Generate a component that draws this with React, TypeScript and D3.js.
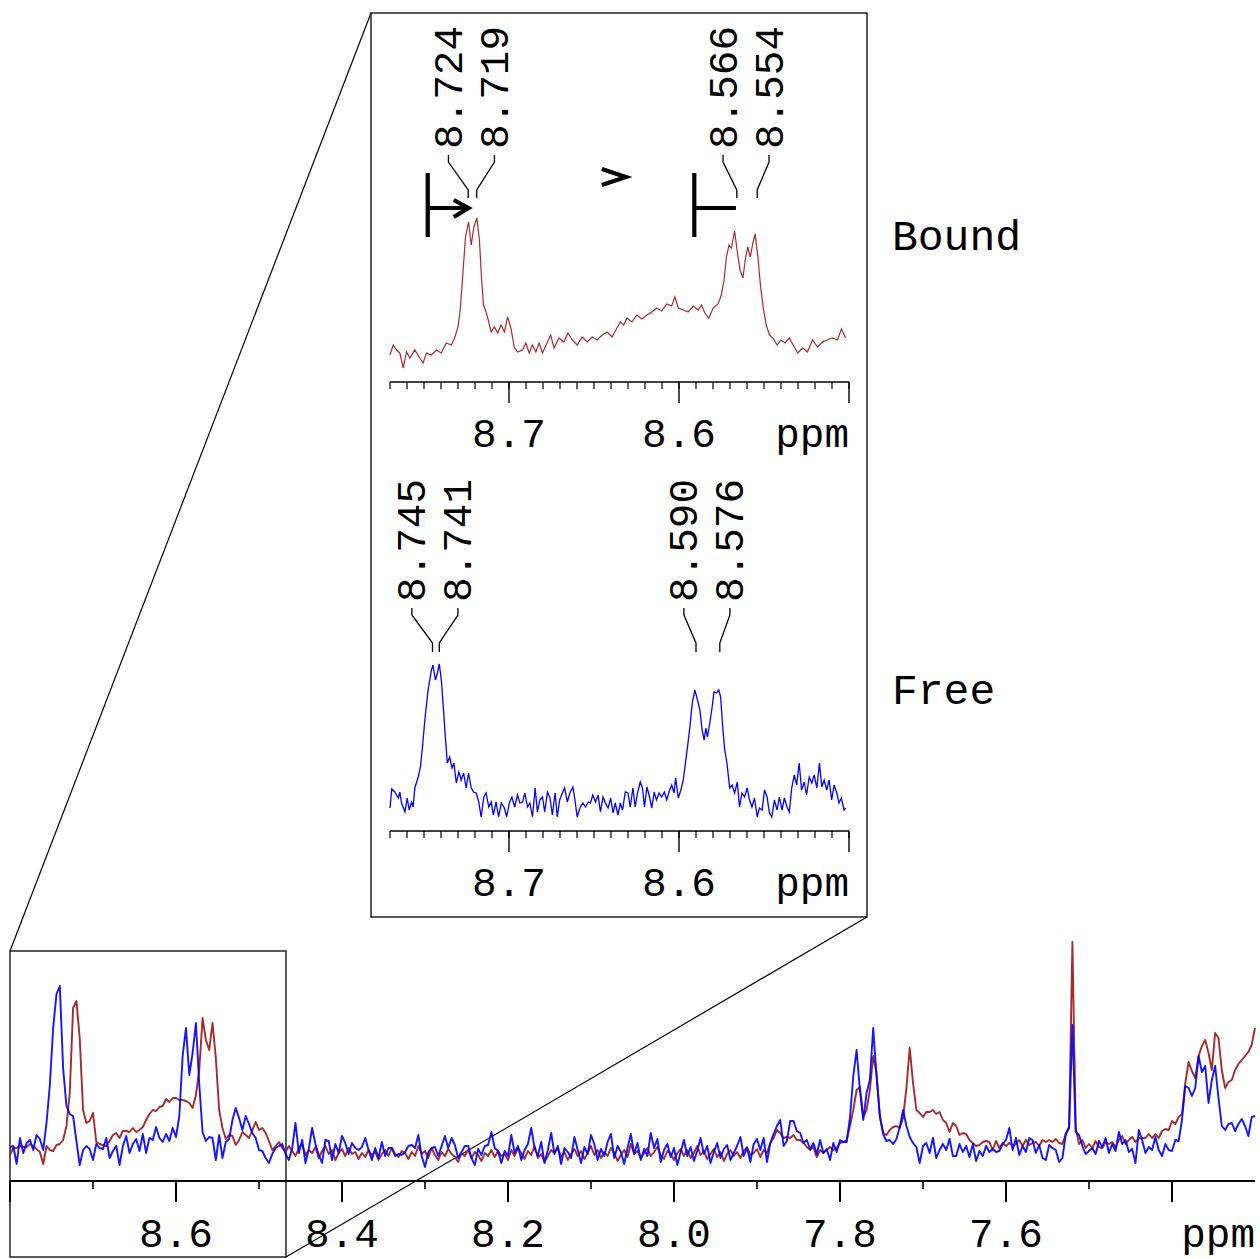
import React from "react";
import * as d3 from "d3";

// ---------- main spectrum (uniform ppm grid) ----------
const MAIN_START = 8.8;
const MAIN_STEP = 0.004;

const freeMain: number[] = [
  21,22,4,30,15,25,28,18,33,29, 18,45,83,140,174,182,100,62,54,52, 27,3,18,22,19,8,24,20,19,30,
  10,17,22,3,22,32,15,24,29,17, 34,15,30,28,41,30,26,34,27,40, 31,52,112,140,93,115,145,84,36,27,
  31,30,8,33,10,26,29,48,60,50, 38,52,44,35,30,18,
  17,10,5,14,20,22,24,14,8,20, 45,15,28,5,19,40,24,13,5,28, 27,8,24,15,32,25,14,25,20,18,
  21,30,18,8,20,10,26,12,20,20, 12,14,13,16,22,23,20,33,12,1, 16,20,21,12,22,32,20,30,23,10,
  16,22,22,10,3,19,13,22,23,36, 20,17,5,17,12,
  33,15,22,8,18,24,40,20,12,26, 5,18,35,14,22,4,20,16,10,31, 18,5,21,14,33,24,8,19,12,26,
  34,10,22,16,4,20,34,14,25,8, 19,12,35,20,29,6,18,24,11,20, 3,16,28,12,21,7,17,30,14,22,
  5,16,25,10,19,23,8,15,22,31, 12,20,6,24,29,
  18,30,6,25,34,42,48,22,27,47, 47,37,35,25,28,19,25,14,28,15, 19,8,25,16,28,26,26,50,92,118,
  78,48,75,88,140,92,52,34,27,28, 24,29,41,58,42,31,25,21,5,22, 25,15,30,10,18,24,18,29,12,12,
  24,16,22,11,24,7,17,12,22,16, 19,16,17,24,28,40,
  18,30,13,22,16,30,28,15,23,10, 8,23,20,18,6,10,34,41,143,36, 33,22,14,17,20,14,27,21,30,15,
  24,17,36,24,28,16,19,5,38,28, 15,21,18,31,18,12,24,18,17,28, 27,48,82,80,72,80,112,96,102,65,
  88,102,70,42,38,44,45,37,44,49, 42,32,51,52,
];

const boundMain: number[] = [
  13,20,20,22,21,21,24,22,19,16, 4,22,18,17,23,24,28,42,75,160, 167,130,58,45,47,55,26,24,23,22,
  27,33,35,30,37,37,36,40,36,38, 41,48,54,58,57,61,62,69,66,70, 70,68,68,67,65,60,73,98,150,128,
  118,145,110,58,40,29,33,32,23,28, 36,33,30,38,46,38,
  40,35,27,18,22,26,20,16,22,17, 12,20,24,13,18,15,21,10,17,22, 14,18,8,15,19,12,20,14,16,9,
  15,11,18,13,16,8,14,18,12,20, 14,11,17,15,9,16,12,22,14,17, 10,20,13,8,16,12,19,14,11,6,
  15,12,18,10,16,13,7,15,12,18, 11,17,12,14,8,
  18,12,20,15,9,17,13,22,10,14, 6,12,18,15,20,11,16,8,14,19, 12,17,9,15,22,13,18,10,16,12,
  20,15,7,13,18,11,24,14,17,10, 15,20,12,16,21,13,9,17,14,8, 15,19,12,18,10,15,22,13,17,9,
  14,19,11,16,7,14,18,12,16,10, 17,21,13,15,19,
  11,18,15,25,30,38,35,30,31,30, 33,28,28,25,21,18,21,11,18,15, 18,21,18,20,25,26,28,42,58,78,
  81,51,58,78,112,95,52,35,33,38, 41,42,40,50,80,120,85,58,55,51, 56,56,58,54,56,48,45,36,45,42,
  33,35,34,28,25,22,23,26,27,26, 18,27,20,25,22,25,
  22,24,28,22,28,23,25,26,22,28, 26,28,26,29,25,24,34,40,226,40, 24,28,20,24,20,27,21,20,26,24,
  26,21,28,32,24,28,31,26,30,30, 30,34,30,34,30,37,39,38,47,44, 51,54,85,106,97,90,112,122,128,115,
  98,135,130,98,80,86,88,98,104,108, 112,116,123,140,
];

// ---------- inset spectra [ppm, intensity] ----------
const boundInset: [number, number][] = [
  [8.7700,15],[8.7681,25],[8.7661,20],[8.7642,17],[8.7622,2],[8.7603,18],[8.7583,12],[8.7554,20],[8.7525,12],[8.7505,7],
  [8.7486,17],[8.7456,15],[8.7427,20],[8.7398,17],[8.7369,27],[8.7339,25],[8.7320,32],[8.7300,43],[8.7287,60],[8.7271,97],
  [8.7256,133],[8.7238,148],[8.7222,125],[8.7207,143],[8.7189,152],[8.7174,130],[8.7162,93],[8.7150,65],[8.7135,58],[8.7119,48],
  [8.7105,38],[8.7086,43],[8.7066,37],[8.7047,45],[8.7027,38],[8.7008,53],[8.6989,42],[8.6969,23],[8.6950,18],[8.6920,20],
  [8.6901,27],[8.6881,17],[8.6862,25],[8.6842,18],[8.6823,27],[8.6803,17],[8.6774,28],[8.6755,35],[8.6735,22],[8.6706,32],
  [8.6677,28],[8.6653,37],[8.6628,30],[8.6599,25],[8.6569,33],[8.6540,28],[8.6511,33],[8.6482,30],[8.6452,35],[8.6423,38],
  [8.6394,33],[8.6365,42],[8.6345,48],[8.6325,45],[8.6306,52],[8.6277,48],[8.6248,55],[8.6218,51],[8.6189,55],[8.6160,58],
  [8.6131,62],[8.6102,59],[8.6072,66],[8.6043,64],[8.6024,73],[8.6004,62],[8.5975,60],[8.5946,58],[8.5916,64],[8.5887,60],
  [8.5868,65],[8.5848,57],[8.5825,52],[8.5799,62],[8.5770,66],[8.5751,75],[8.5735,90],[8.5721,113],[8.5706,125],[8.5692,122],
  [8.5673,139],[8.5657,118],[8.5641,100],[8.5624,92],[8.5608,113],[8.5595,123],[8.5581,113],[8.5565,127],[8.5552,136],[8.5536,113],
  [8.5520,83],[8.5505,63],[8.5487,45],[8.5468,35],[8.5448,32],[8.5423,25],[8.5400,30],[8.5376,27],[8.5351,32],[8.5322,23],
  [8.5302,17],[8.5273,22],[8.5244,18],[8.5215,30],[8.5185,23],[8.5156,28],[8.5127,30],[8.5098,32],[8.5068,30],[8.5044,41],
  [8.5020,32],
];

const freeInset: [number, number][] = [
  [8.7700,12],[8.7690,31],[8.7671,28],[8.7651,22],[8.7642,28],[8.7632,17],[8.7612,8],[8.7599,22],[8.7587,10],[8.7573,18],
  [8.7564,13],[8.7554,32],[8.7534,43],[8.7521,53],[8.7509,73],[8.7495,100],[8.7476,130],[8.7456,150],[8.7447,155],[8.7433,140],
  [8.7421,147],[8.7410,156],[8.7398,140],[8.7384,107],[8.7373,80],[8.7363,57],[8.7349,63],[8.7335,52],[8.7324,57],[8.7310,37],
  [8.7295,48],[8.7281,40],[8.7267,47],[8.7252,32],[8.7238,47],[8.7222,32],[8.7209,28],[8.7193,27],[8.7178,18],[8.7164,3],
  [8.7148,23],[8.7135,27],[8.7119,13],[8.7105,18],[8.7092,5],[8.7076,18],[8.7061,3],[8.7045,17],[8.7027,12],[8.7014,3],
  [8.6998,17],[8.6983,23],[8.6967,13],[8.6950,25],[8.6936,17],[8.6920,18],[8.6907,27],[8.6891,13],[8.6877,17],[8.6862,3],
  [8.6846,32],[8.6833,8],[8.6819,20],[8.6803,23],[8.6790,8],[8.6774,28],[8.6759,22],[8.6745,5],[8.6729,27],[8.6716,3],
  [8.6702,20],[8.6686,27],[8.6673,32],[8.6657,18],[8.6642,27],[8.6624,33],[8.6612,20],[8.6599,3],[8.6583,12],[8.6566,17],
  [8.6550,13],[8.6534,18],[8.6521,17],[8.6507,25],[8.6491,18],[8.6476,25],[8.6462,8],[8.6447,23],[8.6433,17],[8.6417,12],
  [8.6402,22],[8.6388,7],[8.6375,17],[8.6359,5],[8.6345,17],[8.6332,10],[8.6316,28],[8.6300,27],[8.6287,13],[8.6271,32],
  [8.6258,13],[8.6244,27],[8.6228,38],[8.6215,32],[8.6203,13],[8.6189,33],[8.6176,25],[8.6160,12],[8.6146,28],[8.6133,20],
  [8.6117,27],[8.6102,23],[8.6086,28],[8.6072,20],[8.6059,28],[8.6043,35],[8.6029,27],[8.6020,42],[8.6004,22],[8.5989,30],
  [8.5975,40],[8.5965,53],[8.5950,73],[8.5936,93],[8.5922,117],[8.5907,130],[8.5891,120],[8.5877,110],[8.5864,90],[8.5852,80],
  [8.5842,92],[8.5833,83],[8.5819,97],[8.5805,113],[8.5794,128],[8.5780,127],[8.5766,130],[8.5755,123],[8.5743,93],[8.5731,70],
  [8.5718,57],[8.5702,32],[8.5688,35],[8.5673,27],[8.5657,38],[8.5644,13],[8.5630,27],[8.5614,23],[8.5599,32],[8.5585,20],
  [8.5571,13],[8.5556,22],[8.5540,3],[8.5527,12],[8.5511,10],[8.5497,30],[8.5482,23],[8.5468,7],[8.5454,3],[8.5439,20],
  [8.5423,10],[8.5410,23],[8.5394,10],[8.5380,22],[8.5365,13],[8.5351,8],[8.5337,32],[8.5322,45],[8.5308,35],[8.5293,57],
  [8.5279,30],[8.5263,38],[8.5250,25],[8.5234,43],[8.5219,37],[8.5205,45],[8.5189,32],[8.5174,57],[8.5160,33],[8.5146,40],
  [8.5131,30],[8.5117,40],[8.5102,20],[8.5088,35],[8.5072,27],[8.5059,17],[8.5045,22],[8.5029,10],[8.5020,12],
];

// ---------- axis ticks / labels ----------
const mainMajor = [8.8, 8.6, 8.4, 8.2, 8.0, 7.8, 7.6, 7.4];
const mainMinor = [8.7, 8.5, 8.3, 8.1, 7.9, 7.7, 7.5];
const mainLabels = ["8.6", "8.4", "8.2", "8.0", "7.8", "7.6"];
const insetMajor = [8.7, 8.6, 8.5];
const insetLabels = ["8.7", "8.6"];

const boundPeaks: [number, number][] = [[8.724, 8.719], [8.566, 8.554]];
const freePeaks: [number, number][] = [[8.745, 8.741], [8.590, 8.576]];

const FONT = "'Liberation Mono', 'Courier New', monospace";
const BLUE = "#0000ff";
const BROWN = "#a52a2a";

export default function App() {
  const xMain = d3.scaleLinear().domain([8.8, 7.3]).range([10, 1255]);
  const yMain = d3.scaleLinear().domain([0, 226]).range([1168, 942]);
  const xIn = d3.scaleLinear().domain([8.77, 8.5]).range([390, 849]);
  const yBound = d3.scaleLinear().domain([0, 150]).range([370, 220]);
  const yFree = d3.scaleLinear().domain([0, 150]).range([820, 670]);

  const ppmAt = (i: number) => MAIN_START - i * MAIN_STEP;
  const mainLine = d3
    .line<number>()
    .x((_, i) => xMain(ppmAt(i)))
    .y((d) => yMain(d));
  const boundLine = d3
    .line<[number, number]>()
    .x((d) => xIn(d[0]))
    .y((d) => yBound(d[1]));
  const freeLine = d3
    .line<[number, number]>()
    .x((d) => xIn(d[0]))
    .y((d) => yFree(d[1]));

  const insetMinor = d3.range(0, 28).map((k) => +(8.77 - k * 0.01).toFixed(2));

  const axisInset = (y0: number, key: string) => (
    <g key={key}>
      <line x1={xIn(8.77)} x2={xIn(8.5)} y1={y0} y2={y0} stroke="#000" strokeWidth={1.4} />
      {insetMinor.map((t) => (
        <line key={t} x1={xIn(t)} x2={xIn(t)} y1={y0} y2={y0 + 7} stroke="#000" strokeWidth={1.2} />
      ))}
      {insetMajor.map((t) => (
        <line key={"M" + t} x1={xIn(t)} x2={xIn(t)} y1={y0} y2={y0 + 21} stroke="#000" strokeWidth={1.4} />
      ))}
      {insetLabels.map((l, k) => (
        <text key={l} x={xIn(insetMajor[k])} y={y0 + 65} textAnchor="middle" fontFamily={FONT} fontSize={41}>
          {l}
        </text>
      ))}
      <text x={xIn(8.5)} y={y0 + 65} textAnchor="end" fontFamily={FONT} fontSize={41}>
        ppm
      </text>
    </g>
  );

  const peakLabels = (
    peaks: [number, number][],
    textBottom: number,
    c: [number, number, number, number],
    key: string
  ) =>
    peaks.map((pair, k) => {
      const center = (xIn(pair[0]) + xIn(pair[1])) / 2 - 1;
      return pair.map((p, j) => {
        const lx = center + (j === 0 ? -23 : 23);
        const px = xIn(p);
        return (
          <g key={key + k + "_" + j}>
            <text
              transform={`translate(${lx + 13.5},${textBottom}) rotate(-90)`}
              fontFamily={FONT}
              fontSize={41}
            >
              {p.toFixed(3)}
            </text>
            <path
              d={`M${lx},${c[0]}V${c[1]}L${px},${c[2]}V${c[3]}`}
              fill="none"
              stroke="#000"
              strokeWidth={1.3}
            />
          </g>
        );
      });
    });

  // annotation glyphs (bound panel), positioned in data units
  const barX1 = xIn(8.7478);
  const barX2 = xIn(8.591);
  const barTop = yBound(197);
  const barBot = yBound(133);
  const barMid = yBound(162);

  return (
    <svg
      width={1260}
      height={1259}
      style={{ position: "absolute", left: 0, top: 0, background: "#fff" }}
    >
      <rect x={0} y={0} width={1260} height={1259} fill="#fff" />

      {/* inset frame and zoom lines */}
      <rect x={371} y={13} width={496} height={904} fill="none" stroke="#000" strokeWidth={1.3} />
      <rect
        x={xMain(8.8)}
        y={951}
        width={xMain(8.4675) - xMain(8.8)}
        height={306}
        fill="none"
        stroke="#000"
        strokeWidth={1.3}
      />
      <line x1={xMain(8.8)} y1={951} x2={371} y2={13} stroke="#000" strokeWidth={1.2} />
      <line x1={xMain(8.4675)} y1={1257} x2={867} y2={917} stroke="#000" strokeWidth={1.2} />

      {/* main spectra */}
      <path d={mainLine(boundMain) || ""} fill="none" stroke={BROWN} strokeWidth={1.9} strokeLinejoin="round" />
      <path d={mainLine(freeMain) || ""} fill="none" stroke={BLUE} strokeWidth={1.9} strokeLinejoin="round" opacity={0.92} />

      {/* main axis */}
      <line x1={xMain(8.8)} x2={xMain(7.3)} y1={1181} y2={1181} stroke="#000" strokeWidth={2} />
      {mainMajor.map((t) => (
        <line key={t} x1={xMain(t)} x2={xMain(t)} y1={1181} y2={1202} stroke="#000" strokeWidth={2} />
      ))}
      {mainMinor.map((t) => (
        <line key={"m" + t} x1={xMain(t)} x2={xMain(t)} y1={1181} y2={1189} stroke="#000" strokeWidth={1.6} />
      ))}
      {mainLabels.map((l, k) => (
        <text key={l} x={xMain(mainMajor[k + 1])} y={1247} textAnchor="middle" fontFamily={FONT} fontSize={41}>
          {l}
        </text>
      ))}
      <text x={xMain(7.3)} y={1247} textAnchor="end" fontFamily={FONT} fontSize={41}>
        ppm
      </text>

      {/* inset spectra */}
      <path d={boundLine(boundInset) || ""} fill="none" stroke={BROWN} strokeWidth={1.2} />
      <path d={freeLine(freeInset) || ""} fill="none" stroke={BLUE} strokeWidth={1.3} />

      {axisInset(382, "ab")}
      {axisInset(831, "af")}

      {peakLabels(boundPeaks, 149, [155, 162, 190, 198], "b")}
      {peakLabels(freePeaks, 602, [608, 615, 643, 652], "f")}

      {/* annotation glyphs */}
      <g stroke="#000" strokeWidth={4.2} fill="none">
        <line x1={barX1} x2={barX1} y1={barTop} y2={barBot} />
        <line x1={barX1} x2={xIn(8.7238)} y1={barMid} y2={barMid} />
        <path d={`M${xIn(8.7325)},${yBound(170)}L${xIn(8.7238)},${barMid}L${xIn(8.7325)},${yBound(153)}`} />
        <path d={`M${xIn(8.6454)},${yBound(201)}L${xIn(8.6313)},${yBound(193)}L${xIn(8.6454)},${yBound(185)}`} />
        <line x1={barX2} x2={barX2} y1={barTop} y2={barBot} />
        <line x1={barX2} x2={xIn(8.5665)} y1={barMid} y2={barMid} />
      </g>

      <text x={892} y={250} fontFamily={FONT} fontSize={43}>
        Bound
      </text>
      <text x={892} y={704} fontFamily={FONT} fontSize={43}>
        Free
      </text>
    </svg>
  );
}
